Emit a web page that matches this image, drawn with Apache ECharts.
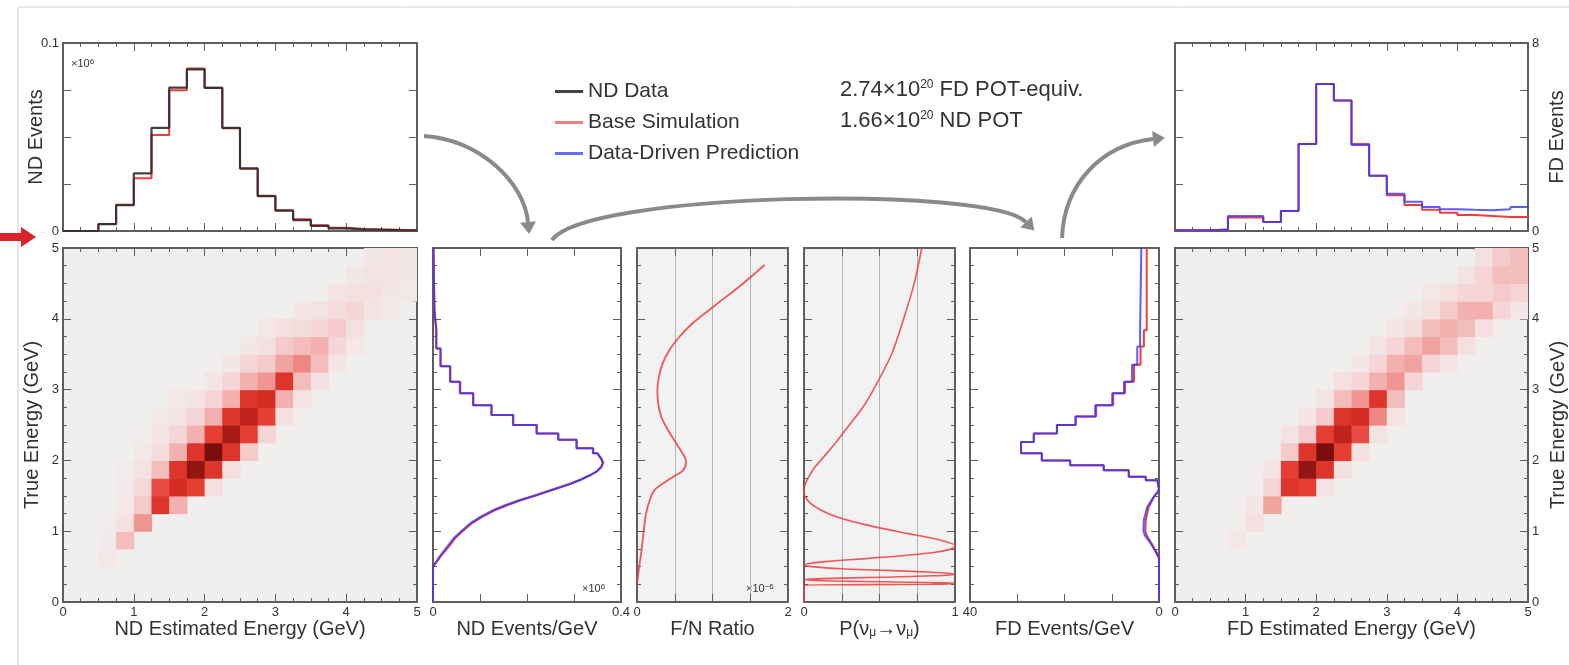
<!DOCTYPE html>
<html><head><meta charset="utf-8">
<script src="https://cdn.jsdelivr.net/npm/echarts@6/dist/echarts.min.js"></script>
<style>html,body{margin:0;padding:0;background:#fff}#c{width:1569px;height:665px}</style>
</head><body><div id="c"></div><script>
// ================= DATA =================
// reconstructed-energy / true-energy bin edges (GeV)
const energyEdges = [0,0.25,0.5,0.75,1,1.25,1.5,1.75,2,2.25,2.5,2.75,3,3.25,3.5,3.75,4,4.25,4.5,4.75,5];

// ND events per bin (x10^6) vs ND estimated energy
const ndRecoData = [0,0,0.0037,0.0138,0.0306,0.0549,0.0763,0.0860,0.0761,0.0549,0.0333,0.0186,0.0108,0.0058,0.0027,0.0014,0.0009,0.0007,0.0005,0.0004];
const ndRecoSim  = [0,0,0.0037,0.0140,0.0280,0.0510,0.0749,0.0864,0.0762,0.0546,0.0331,0.0188,0.0110,0.0062,0.0031,0.0017,0.0011,0.0008,0.0006,0.0004];

// FD events per bin vs FD estimated energy
const fdRecoPred = [0.03,0.03,0.06,0.64,0.64,0.38,0.85,3.70,6.26,5.55,3.66,2.35,1.59,1.24,1.02,0.93,0.90,0.88,0.93,1.02];
const fdRecoSim  = [0.03,0.03,0.06,0.57,0.57,0.38,0.85,3.70,6.26,5.55,3.70,2.35,1.52,1.11,0.90,0.78,0.68,0.64,0.60,0.60];

// ND reco vs true matrix (relative intensity 0-10), row = true-energy bin, column = reco bin
const ndMatrix = [
 [0,0,0,0,0,0,0,0,0,0,0,0,0,0,0,0,0,0,0,0],
 [0,0,0,0,0,0,0,0,0,0,0,0,0,0,0,0,0,0,0,0],
 [0,0,0.5,0,0,0,0,0,0,0,0,0,0,0,0,0,0,0,0,0],
 [0,0,0.3,2.5,0,0,0,0,0,0,0,0,0,0,0,0,0,0,0,0],
 [0,0,0.2,0.9,4,0,0,0,0,0,0,0,0,0,0,0,0,0,0,0],
 [0,0,0,0.5,2,7.5,3,0,0,0,0,0,0,0,0,0,0,0,0,0],
 [0,0,0,0.3,1.3,6.5,8,7,1,0,0,0,0,0,0,0,0,0,0,0],
 [0,0,0,0.2,0.8,2.5,7.5,9.5,7.5,1,0,0,0,0,0,0,0,0,0,0],
 [0,0,0,0,0.4,1.2,3,7.5,10,7.5,2,0,0,0,0,0,0,0,0,0],
 [0,0,0,0,0.2,0.7,1.5,3,7,9,7,1.5,0,0,0,0,0,0,0,0],
 [0,0,0,0,0,0.4,0.8,1.5,3,7.5,8.5,7,1,0,0,0,0,0,0,0],
 [0,0,0,0,0,0,0.4,0.7,1.5,3,7.5,8,3,0.8,0,0,0,0,0,0],
 [0,0,0,0,0,0,0,0,0.6,1.5,3,4,7.5,2.5,1,0,0,0,0,0],
 [0,0,0,0,0,0,0,0,0,0.6,1.5,2,3.5,4.5,2.5,0.6,0,0,0,0],
 [0,0,0,0,0,0,0,0,0,0,0.6,1,2,2.5,3,1.5,0.5,0,0,0],
 [0,0,0,0,0,0,0,0,0,0,0,0.5,1,1.2,1.5,2,1,0,0,0],
 [0,0,0,0,0,0,0,0,0,0,0,0,0,0.6,0.8,1.2,1.5,0.8,0.4,0],
 [0,0,0,0,0,0,0,0,0,0,0,0,0,0,0,0.8,1,1,0.6,0.4],
 [0,0,0,0,0,0,0,0,0,0,0,0,0,0,0,0,0.6,0.8,0.8,0.6],
 [0,0,0,0,0,0,0,0,0,0,0,0,0,0,0,0,0,0.6,0.8,0.6]
];
// FD reco vs true matrix
const fdMatrix = [
 [0,0,0,0,0,0,0,0,0,0,0,0,0,0,0,0,0,0,0,0],
 [0,0,0,0,0,0,0,0,0,0,0,0,0,0,0,0,0,0,0,0],
 [0,0,0,0,0,0,0,0,0,0,0,0,0,0,0,0,0,0,0,0],
 [0,0,0,0.5,0,0,0,0,0,0,0,0,0,0,0,0,0,0,0,0],
 [0,0,0,0,1,0,0,0,0,0,0,0,0,0,0,0,0,0,0,0],
 [0,0,0,0,0.6,3.5,0,0,0,0,0,0,0,0,0,0,0,0,0,0],
 [0,0,0,0,0,1.5,7.5,7,0.8,0,0,0,0,0,0,0,0,0,0,0],
 [0,0,0,0,0,0.7,7,9.5,7.5,1,0,0,0,0,0,0,0,0,0,0],
 [0,0,0,0,0,0,2,7.5,10,7,1,0,0,0,0,0,0,0,0,0],
 [0,0,0,0,0,0,0.8,2,7,8.5,6.5,0.8,0,0,0,0,0,0,0,0],
 [0,0,0,0,0,0,0,0.7,2,7.5,8,4.5,0.8,0,0,0,0,0,0,0],
 [0,0,0,0,0,0,0,0,0.8,2.5,4,7.5,2.5,0,0,0,0,0,0,0],
 [0,0,0,0,0,0,0,0,0,1,1.5,3,4,1.5,0,0,0,0,0,0],
 [0,0,0,0,0,0,0,0,0,0,0.6,1.5,3,3.5,1.5,0.7,0,0,0,0],
 [0,0,0,0,0,0,0,0,0,0,0,0.8,1.5,2.5,3.5,2.5,1,0,0,0],
 [0,0,0,0,0,0,0,0,0,0,0,0,0.7,1.2,2.5,3,2.5,1,0,0],
 [0,0,0,0,0,0,0,0,0,0,0,0,0,0.6,1,2,3,3,1.5,0.6],
 [0,0,0,0,0,0,0,0,0,0,0,0,0,0,0.5,1,1.5,1.5,2,1.5],
 [0,0,0,0,0,0,0,0,0,0,0,0,0,0,0,0,0.8,1.5,2.5,2.5],
 [0,0,0,0,0,0,0,0,0,0,0,0,0,0,0,0,0,1,2,2.5]
];

// ND events/GeV (x10^6) vs true energy: finely binned low part + coarse upper bins
const ndLowE    = [0,0.5,0.55,0.66,0.78,0.9,1.0,1.11,1.2,1.3,1.37,1.44,1.5,1.56,1.62,1.67,1.73,1.79,1.85,1.91,1.97,2.03,2.10];
const ndLowPred = [0,0,0.005,0.016,0.030,0.044,0.060,0.079,0.100,0.129,0.155,0.185,0.215,0.242,0.270,0.292,0.315,0.334,0.350,0.359,0.362,0.358,0.350];
const ndLowSim  = [0,0,0.006,0.018,0.033,0.047,0.063,0.082,0.104,0.133,0.159,0.188,0.217,0.244,0.271,0.293,0.315,0.334,0.349,0.358,0.361,0.357,0.349];
const ndStepEdges = [2.10,2.17,2.29,2.38,2.50,2.64,2.78,2.95,3.11,3.33,3.58,3.84,4.13,5.0];
const ndStepPred  = [0.341,0.306,0.267,0.221,0.171,0.125,0.086,0.058,0.037,0.016,0.007,0.003,0.001];
const ndStepSim   = [0.340,0.305,0.266,0.220,0.170,0.124,0.085,0.057,0.036,0.016,0.007,0.003,0.001];

// F/N ratio (x10^-6) vs true energy
const fnE = [0.26,0.54,0.73,1.01,1.25,1.44,1.58,1.67,1.77,1.86,1.98,2.05,2.24,2.43,2.62,2.81,3.0,3.18,3.37,3.56,3.75,3.94,4.17,4.46,4.76];
const fnV = [0,0.035,0.06,0.09,0.12,0.17,0.23,0.34,0.48,0.61,0.65,0.63,0.52,0.41,0.32,0.28,0.27,0.29,0.34,0.43,0.565,0.74,1.01,1.36,1.69];

// P(numu -> numu) vs true energy
const probE = [5.0,4.5,4.0,3.5,3.0,2.75,2.5,2.25,2.0,1.9,1.8,1.7,1.6,1.55,1.5,1.4,1.3,1.2,1.1,1.0,0.95,0.9,0.85,0.8,0.77,0.74,0.7,0.65,0.6,0.57,0.55,0.52,0.5,0.47,0.45,0.42,0.40,0.39,0.37,0.35,0.33,0.315,0.30,0.29,0.28,0.27,0.262,0.255,0.25,0.245,0.24,0];
const probV = [0.78,0.73,0.66,0.58,0.46,0.39,0.30,0.21,0.11,0.07,0.04,0.015,0,0,0.005,0.04,0.11,0.22,0.39,0.61,0.73,0.85,0.94,1.0,0.995,0.96,0.86,0.63,0.32,0.14,0.05,0,0.05,0.25,0.50,0.85,0.98,1.0,0.85,0.51,0.12,0,0.14,0.38,0.68,0.93,1.0,0.95,0.85,0.4,0,0];

// FD events/GeV vs true energy
const fdLowE    = [0,0.62,0.71,0.83,0.94,1.01,1.16,1.34,1.49,1.56,1.60,1.66,1.72];
const fdLowPred = [0,0,0.7,1.8,3.0,3.3,3.2,2.5,1.1,0.2,0,0.2,0.35];
const fdLowSim  = [0,0,0.6,1.6,2.6,2.9,2.8,2.2,1.0,0.2,0,0.2,0.35];
const fdStepEdges = [1.72,1.77,1.86,1.93,2.0,2.10,2.26,2.38,2.50,2.62,2.78,2.95,3.11,3.35,3.61,3.84,5.0];
const fdStepPred  = [2.8,6.4,11.7,18.8,24.8,29.2,26.5,21.6,17.7,13.5,9.9,7.4,5.7,4.6,4.0,3.75];
const fdStepSim   = [2.8,6.4,11.7,18.8,24.8,29.2,26.5,21.6,17.6,13.3,9.7,7.2,5.3,3.9,3.2,2.6];

const legendNames = ['ND Data','Base Simulation','Data-Driven Prediction'];
const potLines = ['2.74\u00d710{sup|20} FD POT-equiv.','1.66\u00d710{sup|20} ND POT'];

// ================= STYLE / LAYOUT =================
const FONT = '"Liberation Sans", Arial, Helvetica, sans-serif';
const TXT = '#333333';
const AX = '#5e5e5e';
const C_DATA = '#2e2e2e', C_SIM = '#ee3c3c', C_PRED = '#3434ff';

const rects = [
  {left:63,  top:43,  width:354, height:188},   // 0 ND reco hist
  {left:63,  top:248, width:354, height:354},   // 1 ND matrix
  {left:433, top:248, width:188, height:354},   // 2 ND true
  {left:637, top:248, width:151, height:354},   // 3 F/N
  {left:804, top:248, width:151, height:354},   // 4 P
  {left:970, top:248, width:189, height:354},   // 5 FD true
  {left:1175,top:248, width:353, height:354},   // 6 FD matrix
  {left:1175,top:43,  width:353, height:188}    // 7 FD reco hist
];
const bgs = ['#ffffff','#f1eeee','#ffffff','#f2f2f2','#f2f2f2','#ffffff','#f1eeee','#ffffff'];

const E5 = {min:0,max:5,interval:1,minor:4};
const nameStyle = {fontSize:20, color:TXT, fontFamily:FONT};
const panels = [
  {x:{...E5,labels:'none'}, y:{min:0,max:0.1,interval:0.025,labels:'ends',name:'ND Events',nameGap:17}},
  {x:{...E5,labels:'all',name:'ND Estimated Energy (GeV)',nameGap:17}, y:{...E5,labels:'all',name:'True Energy (GeV)',nameGap:21}},
  {x:{min:0,max:0.4,interval:0.1,labels:'ends',name:'ND Events/GeV',nameGap:17}, y:{...E5,labels:'none'}},
  {x:{min:0,max:2,interval:0.5,labels:'ends',grid:true,name:'F/N Ratio',nameGap:17}, y:{...E5,labels:'none'}},
  {x:{min:0,max:1,interval:0.25,labels:'ends',grid:true,name:'P(\u03bd{sub|\u03bc}\u2192\u03bd{sub|\u03bc})',nameGap:17}, y:{...E5,labels:'none'}},
  {x:{min:0,max:40,interval:10,inverse:true,labels:'ends',name:'FD Events/GeV',nameGap:17}, y:{...E5,labels:'none'}},
  {x:{...E5,labels:'all',name:'FD Estimated Energy (GeV)',nameGap:17}, y:{...E5,labels:'all',side:'right',name:'True Energy (GeV)',nameGap:20}},
  {x:{...E5,labels:'none'}, y:{min:0,max:8,interval:2,labels:'ends',side:'right',name:'FD Events',nameGap:19}}
];

function fmtLabel(v, cfg) {
  const r = +(+v).toFixed(6);
  if (cfg.labels === 'all') return String(r);
  if (cfg.labels === 'ends') return (Math.abs(r-cfg.min)<1e-9 || Math.abs(r-cfg.max)<1e-9) ? String(r) : '';
  return '';
}
function axisPair(dim, gi, cfg) {
  const posA = dim==='x' ? 'bottom' : 'left', posB = dim==='x' ? 'top' : 'right';
  const side = cfg.side || posA;
  return [posA, posB].map(pos => {
    const isSide = pos === side;
    const ax = {
      type:'value', gridIndex:gi, position:pos, min:cfg.min, max:cfg.max, interval:cfg.interval, inverse:!!cfg.inverse,
      axisLine:{show:true,onZero:false,lineStyle:{color:AX,width:2}},
      axisTick:{show:true,inside:true,length:8,lineStyle:{color:AX,width:1}},
      minorTick:{show:!!cfg.minor,splitNumber:cfg.minor||5,length:4,lineStyle:{color:AX,width:1}},
      splitLine:{show:!!cfg.grid && pos===posA,lineStyle:{color:'#b4b4b4',width:1}},
      minorSplitLine:{show:false},
      axisLabel:{show:cfg.labels!=='none' && isSide, fontSize:13, color:TXT, fontFamily:FONT, margin:4,
                 formatter:v=>fmtLabel(v,cfg)},
      nameMoveOverlap:false,
      silent:true
    };
    if (isSide && cfg.name) {
      ax.name = cfg.name; ax.nameLocation = 'middle'; ax.nameGap = cfg.nameGap;
      ax.nameTextStyle = Object.assign({}, nameStyle, {rich:{sub:{fontSize:12,color:TXT,fontFamily:FONT,verticalAlign:'bottom',padding:[8,0,0,0]}}});
      if (dim==='y') ax.nameRotate = 90;
    }
    return ax;
  });
}

const grid = [], xAxis = [], yAxis = [];
rects.forEach((r,i) => {
  grid.push(Object.assign({show:true, backgroundColor:bgs[i], borderWidth:0, containLabel:false}, r));
  xAxis.push(...axisPair('x', i, panels[i].x));
  yAxis.push(...axisPair('y', i, panels[i].y));
});

// ================= SERIES =================
function stepH(edges, vals){ const p=[]; vals.forEach((v,k)=>{p.push([edges[k],v]);p.push([edges[k+1],v]);}); return p; }
function stepV(edges, vals){ const p=[]; vals.forEach((v,k)=>{p.push([v,edges[k]]);p.push([v,edges[k+1]]);}); return p; }
function zipVE(vals, es){ return vals.map((v,k)=>[v,es[k]]); }
function lineS(name, color, gi, data, extra){
  return Object.assign({type:'line', name, xAxisIndex:2*gi, yAxisIndex:2*gi, data, symbol:'none', showSymbol:false,
    animation:false, clip:true, z:3, lineStyle:{color, width:2}, itemStyle:{color}}, extra||{});
}
function matrixData(m){
  const d=[];
  m.forEach((row,j)=>row.forEach((v,i)=>{ if(v>0) d.push([energyEdges[i],energyEdges[j],v,energyEdges[i+1],energyEdges[j+1]]); }));
  return d;
}
function heatS(gi, m){
  return {type:'custom', name:'matrix'+gi, xAxisIndex:2*gi, yAxisIndex:2*gi, data:matrixData(m), clip:true, z:2,
    dimensions:['x0','y0','v','x1','y1'], encode:{x:[0,3], y:[1,4]},
    renderItem:(params, api) => {
      const p0 = api.coord([api.value(0), api.value(1)]);
      const p1 = api.coord([api.value(3), api.value(4)]);
      return {type:'rect', shape:{x:p0[0], y:p1[1], width:p1[0]-p0[0]+0.6, height:p0[1]-p1[1]+0.6},
              style:{fill:api.visual('color')}};
    }};
}

const series = [];
series.push(lineS('Base Simulation', C_SIM, 0, stepH(energyEdges, ndRecoSim), {lineStyle:{color:C_SIM,width:2}}));
series.push(lineS('ND Data', C_DATA, 0, stepH(energyEdges, ndRecoData), {lineStyle:{color:C_DATA,width:2.2,opacity:0.9}}));
const ndHeatIdx = series.length; series.push(heatS(1, ndMatrix));
series.push(lineS('Base Simulation', C_SIM, 2, zipVE(ndLowSim, ndLowE).concat(stepV(ndStepEdges, ndStepSim))));
series.push(lineS('Data-Driven Prediction', C_PRED, 2, zipVE(ndLowPred, ndLowE).concat(stepV(ndStepEdges, ndStepPred)), {lineStyle:{color:C_PRED,width:2,opacity:0.8}}));
series.push(lineS('Base Simulation', C_SIM, 3, zipVE(fnV, fnE), {smooth:0.4, lineStyle:{color:C_SIM,width:1.8,opacity:0.85}}));
series.push(lineS('Base Simulation', C_SIM, 4, zipVE(probV, probE), {smooth:0.3, lineStyle:{color:C_SIM,width:1.6,opacity:0.85}}));
series.push(lineS('Base Simulation', C_SIM, 5, zipVE(fdLowSim, fdLowE).concat(stepV(fdStepEdges, fdStepSim))));
series.push(lineS('Data-Driven Prediction', C_PRED, 5, zipVE(fdLowPred, fdLowE).concat(stepV(fdStepEdges, fdStepPred)), {lineStyle:{color:C_PRED,width:2,opacity:0.8}}));
const fdHeatIdx = series.length; series.push(heatS(6, fdMatrix));
series.push(lineS('Base Simulation', C_SIM, 7, stepH(energyEdges, fdRecoSim)));
series.push(lineS('Data-Driven Prediction', C_PRED, 7, stepH(energyEdges, fdRecoPred), {lineStyle:{color:C_PRED,width:2,opacity:0.8}}));

// ================= GRAPHICS (arrows, annotations) =================
function arrow(p0, c1, c2, p1, color){
  const dx=p1[0]-c2[0], dy=p1[1]-c2[1], L=Math.hypot(dx,dy), ux=dx/L, uy=dy/L;
  const tip=[p1[0]+ux*12, p1[1]+uy*12], b1=[p1[0]-uy*8, p1[1]+ux*8], b2=[p1[0]+uy*8, p1[1]-ux*8];
  return [
    {type:'bezierCurve', silent:true, shape:{x1:p0[0],y1:p0[1],cpx1:c1[0],cpy1:c1[1],cpx2:c2[0],cpy2:c2[1],x2:p1[0],y2:p1[1]},
     style:{stroke:color, lineWidth:4, fill:'none'}},
    {type:'polygon', silent:true, shape:{points:[tip,b1,b2]}, style:{fill:color}}
  ];
}
const supRich = {sup:{fontSize:12, fill:TXT, fontFamily:FONT, verticalAlign:'top', lineHeight:12}};
const graphic = [
  {type:'line', silent:true, shape:{x1:18,y1:7,x2:1569,y2:7}, style:{stroke:'#d0d0d0', lineWidth:1}},
  {type:'line', silent:true, shape:{x1:18,y1:7,x2:18,y2:665}, style:{stroke:'#d0d0d0', lineWidth:1}},
  {type:'polygon', silent:true, shape:{points:[[0,233],[21,233],[21,227],[36,237],[21,247],[21,241],[0,241]]}, style:{fill:'#d8232a'}},
  ...arrow([424,136],[480,140],[524,182],[528,222],'#8a8a8a'),
  ...arrow([552,240],[585,192],[990,185],[1026,222],'#8a8a8a'),
  ...arrow([1062,238],[1064,185],[1100,145],[1153,139],'#8a8a8a'),
  {type:'text', silent:true, left:840, top:79, style:{text:potLines[0], fill:TXT, font:'22px '+FONT, rich:supRich}},
  {type:'text', silent:true, left:840, top:110, style:{text:potLines[1], fill:TXT, font:'22px '+FONT, rich:supRich}},
  {type:'text', silent:true, left:71, top:58, style:{text:'\u00d710{s|6}', fill:TXT, font:'11px '+FONT, rich:{s:{fontSize:8,verticalAlign:'top',fill:TXT}}}},
  {type:'text', silent:true, left:582, top:583, style:{text:'\u00d710{s|6}', fill:TXT, font:'11px '+FONT, rich:{s:{fontSize:8,verticalAlign:'top',fill:TXT}}}},
  {type:'text', silent:true, left:746, top:583, style:{text:'\u00d710{s|\u22126}', fill:TXT, font:'11px '+FONT, rich:{s:{fontSize:8,verticalAlign:'top',fill:TXT}}}}
];

const option = {
  animation:false,
  backgroundColor:'#ffffff',
  textStyle:{fontFamily:FONT},
  grid, xAxis, yAxis, series, graphic,
  visualMap:[{type:'continuous', show:false, seriesIndex:[ndHeatIdx, fdHeatIdx], dimension:2, min:0, max:10,
    inRange:{color:['#f1eeee','#f5e0e0','#f4caca','#f2b0ae','#ef9692','#ec7872','#e9584f','#e63e32','#d32c23','#a81c16','#7a0e0c']}}],
  legend:{show:true, data:[
      {name:'ND Data', itemStyle:{color:'#444444'}},
      {name:'Base Simulation', itemStyle:{color:'#f08080'}},
      {name:'Data-Driven Prediction', itemStyle:{color:'#6a6aff'}}],
    left:550, top:76, orient:'vertical', icon:'rect', itemWidth:28, itemHeight:3, itemGap:10, selectedMode:false,
    textStyle:{fontSize:21, color:TXT, fontFamily:FONT, lineHeight:21}}
};
const chart = echarts.init(document.getElementById('c'), null, {renderer:'canvas'});
chart.setOption(option);
</script></body></html>
